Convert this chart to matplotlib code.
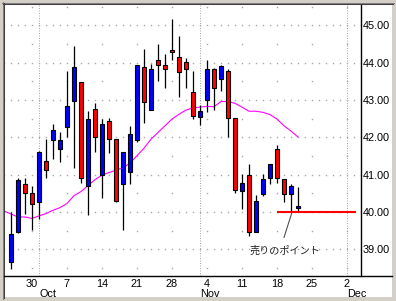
import numpy as np
import matplotlib.pyplot as plt
import matplotlib.transforms as mtransforms
from matplotlib.lines import Line2D
from matplotlib.patches import Rectangle

plt.rcParams['font.family'] = ['Liberation Sans', 'Noto Sans CJK JP']

# daily candles, x = trading day index (0 = Sep 25)
opens  = [38.66, 39.47, 40.75, 40.50, 40.28, 41.36, 41.92, 41.70, 42.28, 42.98,
          43.49, 40.71, 42.75, 40.98, 42.45, 41.97, 40.74, 41.08, 41.94, 43.89,
          42.73, 44.06, 43.95, 44.35, 44.14, 44.01, 43.21, 42.55, 42.99, 43.84,
          43.57, 43.79, 42.51, 40.57, 40.99, 39.47, 40.49, 40.91, 41.70, 40.89,
          40.49, 40.10]
highs  = [39.99, 40.90, 40.90, 40.70, 41.63, 41.95, 42.35, 42.14, 43.77, 44.44,
          43.49, 42.70, 42.91, 42.48, 42.51, 41.97, 41.62, 42.31, 43.95, 44.36,
          43.96, 44.49, 44.24, 45.16, 44.71, 44.13, 43.79, 42.88, 44.06, 43.86,
          43.93, 43.82, 42.51, 41.01, 41.28, 40.45, 41.02, 41.30, 41.79, 40.89,
          40.74, 40.67]
lows   = [38.48, 39.45, 39.95, 39.52, 39.82, 40.90, 41.43, 41.33, 42.00, 41.18,
          40.78, 39.93, 41.61, 40.38, 41.59, 40.27, 39.51, 40.74, 41.88, 42.39,
          42.73, 43.50, 43.32, 44.07, 43.08, 43.33, 42.48, 42.33, 42.68, 42.73,
          43.24, 42.00, 40.50, 40.07, 39.36, 39.47, 40.44, 40.74, 40.77, 40.28,
          40.02, 40.03]
closes = [39.41, 40.87, 40.50, 40.21, 41.60, 41.14, 42.21, 41.92, 42.85, 43.88,
          40.90, 42.48, 42.00, 42.37, 41.97, 40.29, 41.60, 42.10, 43.95, 42.96,
          43.82, 43.95, 43.84, 44.29, 43.74, 43.82, 42.57, 42.70, 43.84, 43.33,
          43.90, 42.51, 40.58, 40.79, 39.47, 40.31, 40.89, 41.28, 40.90, 40.48,
          40.69, 40.16]

# moving average (starts one day before the first candle)
ma_start = -1
ma_vals = [40.03, 39.95, 39.87, 39.87, 39.83, 39.90, 39.96, 40.05, 40.12, 40.23,
           40.44, 40.55, 40.71, 40.87, 40.99, 41.06, 41.12, 41.19, 41.31, 41.51,
           41.71, 41.95, 42.13, 42.31, 42.49, 42.62, 42.73, 42.79, 42.81, 42.83,
           42.82, 42.96, 42.96, 42.91, 42.81, 42.70, 42.70, 42.67, 42.61, 42.49,
           42.31, 42.17, 42.01]

tick_pos = [3, 8, 13, 18, 23, 28, 33, 38, 43, 48]
tick_labels = ['30', '7', '14', '21', '28', '4', '11', '18', '25', '2']
month_pos = [4, 27, 48]
month_labels = ['Oct', 'Nov', 'Dec']
y_ticks = [39, 40, 41, 42, 43, 44, 45]

sell_level = 40.0
sell_from, sell_to = 38, 49.3
note_text = '売りのポイント'

W, H = 396, 301
def fx(px):
    return px / W
def fy(py):
    return 1 - py / H

fig = plt.figure(figsize=(W / 100, H / 100), dpi=100, facecolor='#D4D0C8')

# white inner panel with sunken border
fig.patches.append(Rectangle((fx(4), fy(297)), fx(392) - fx(4), fy(4) - fy(297),
                             transform=fig.transFigure, facecolor='white',
                             edgecolor='none', zorder=-5))
for (x0, y0, x1, y1, col) in [(2, 2.5, 394, 2.5, '#808080'), (2.5, 2, 2.5, 299, '#808080'),
                              (3, 3.5, 393, 3.5, '#404040'), (3.5, 3, 3.5, 298, '#404040')]:
    fig.add_artist(Line2D([fx(x0), fx(x1)], [fy(y0), fy(y1)], color=col, lw=0.75))

ax = fig.add_axes([fx(4), fy(276), fx(361) - fx(4), fy(4) - fy(276)])
ax.set_facecolor('white')
ax.set_xlim(-1, 50)
ax.set_ylim(38.29, 45.57)

for s in ['left', 'top', 'bottom']:
    ax.spines[s].set_visible(False)
ax.spines['right'].set_linewidth(1.0)
ax.spines['right'].set_color('black')
fig.add_artist(Line2D([fx(4), fx(392)], [fy(276), fy(276)], color='black', lw=1.0))

# dotted grid: whole prices dotted every day, half prices only on Mondays
grid_c = '#A8A8A8'
days = np.arange(-1, 51)
for lvl in y_ticks:
    ax.plot(days, [lvl] * len(days), ls='none', marker='s', ms=1.0, mew=0,
            color=grid_c, zorder=0.5)
mondays = np.arange(-2, 51, 5)
for lvl in np.arange(38.5, 45.6, 1.0):
    ax.plot(mondays, [lvl] * len(mondays), ls='none', marker='s', ms=1.0, mew=0,
            color=grid_c, zorder=0.5)
for p in month_pos:
    ax.axvline(p, color=grid_c, lw=0.72, ls=(0, (1, 1.5)), zorder=0.5)

# moving average
ax.plot(np.arange(ma_start, ma_start + len(ma_vals)), ma_vals,
        color='#FF00FF', lw=0.8, zorder=1.5)

# candles
o = np.array(opens)
c = np.array(closes)
x = np.arange(len(o))
colors = ['#0000FF' if cc >= oo else '#FF0000' for oo, cc in zip(o, c)]
ax.vlines(x, lows, highs, colors='black', lw=0.9, zorder=2)
ax.bar(x, np.abs(c - o), bottom=np.minimum(o, c), width=0.6, color=colors,
       edgecolor='black', linewidth=0.8, zorder=3)

# sell point
ax.hlines(sell_level, sell_from, sell_to, color='#FF0000', lw=1.5, zorder=4)
ax.annotate('', xy=(40.1, 39.97), xytext=(39.0, 39.32),
            arrowprops=dict(arrowstyle='-', color='#505050', lw=0.8,
                            shrinkA=0, shrinkB=0), zorder=4)
ax.text(39.07, 38.98, note_text, ha='center', va='center', fontsize=7.3,
        family=['Noto Sans CJK JP'], color='#202020', zorder=4)

# axes ticks
ax.yaxis.tick_right()
ax.set_yticks(y_ticks)
ax.set_yticklabels([f'{v:.2f}' for v in y_ticks])
ax.tick_params(axis='y', length=0, pad=1.5, labelsize=7.8)
ax.set_xticks(tick_pos)
ax.set_xticklabels(tick_labels)
ax.tick_params(axis='x', length=0, pad=2.5, labelsize=7.8)

trans = mtransforms.blended_transform_factory(ax.transData, ax.transAxes)
for p, m in zip(month_pos, month_labels):
    ax.text(p, -0.047, m, transform=trans, ha='left', va='top', fontsize=7.8,
            clip_on=False)

fig.savefig('out.png', dpi=100, facecolor=fig.get_facecolor())
